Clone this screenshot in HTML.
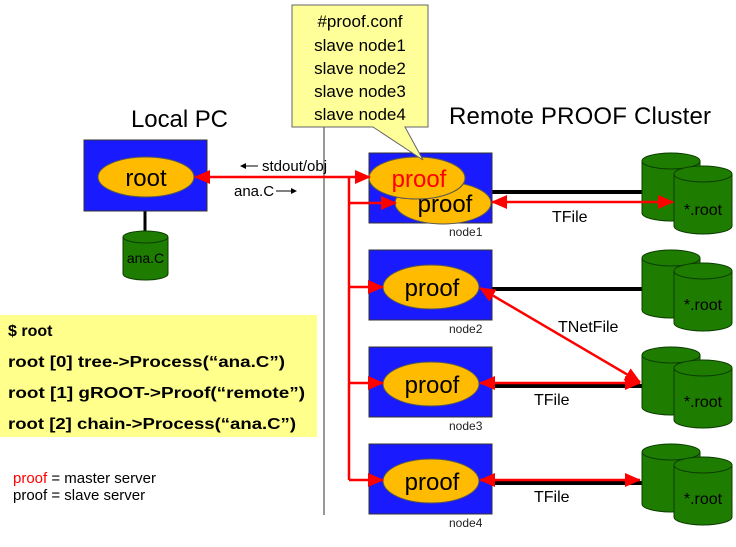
<!DOCTYPE html>
<html><head><meta charset="utf-8"><style>
html,body{margin:0;padding:0;background:#fff;}
svg{display:block;font-family:"Liberation Sans","DejaVu Sans",sans-serif;}
</style></head><body>
<svg width="736" height="547" viewBox="0 0 736 547" xmlns="http://www.w3.org/2000/svg">
<defs>
<marker id="ah" markerUnits="userSpaceOnUse" markerWidth="16" markerHeight="14" refX="15" refY="7" orient="auto"><path d="M0,0 L16,7 L0,14 z" fill="#ff0000"/></marker>
<marker id="as" markerUnits="userSpaceOnUse" markerWidth="16" markerHeight="14" refX="1" refY="7" orient="auto"><path d="M16,0 L0,7 L16,14 z" fill="#ff0000"/></marker>
<g id="cyl">
<path d="M0,8 L0,60 A29,8 0 0 0 58,60 L58,8" fill="#1e7d00" stroke="#0b3d00" stroke-width="1"/>
<ellipse cx="29" cy="8" rx="29" ry="8" fill="#1e7d00" stroke="#0b3d00" stroke-width="1"/>
</g>
</defs>

<!-- vertical divider -->
<line x1="324" y1="127" x2="324" y2="515" stroke="#555" stroke-width="1.2"/>

<!-- Titles -->
<text x="131" y="127" font-size="24" textLength="97">Local PC</text>
<text x="449" y="124" font-size="24" textLength="262">Remote PROOF Cluster</text>

<!-- Local PC -->
<line x1="145" y1="211" x2="145" y2="233" stroke="#000" stroke-width="3"/>
<rect x="84" y="140" width="123" height="71" fill="#1a1aff" stroke="#333" stroke-width="1"/>
<ellipse cx="146" cy="177" rx="48" ry="20" fill="#ffbb00" stroke="#555" stroke-width="1"/>
<text x="146" y="186" font-size="24" text-anchor="middle">root</text>
<g transform="translate(123,231)">
<path d="M0,6 L0,43 A22.5,6 0 0 0 45,43 L45,6" fill="#1e7d00" stroke="#0b3d00"/>
<ellipse cx="22.5" cy="6" rx="22.5" ry="6" fill="#1e7d00" stroke="#0b3d00"/>
<text x="22.5" y="32" font-size="14" text-anchor="middle">ana.C</text>
</g>

<!-- link labels -->
<text x="262" y="171" font-size="15">stdout/obj</text>
<path d="M243,166 L258,166" stroke="#000" stroke-width="1"/><path d="M240,166 L246,163 L246,169z" fill="#000"/>
<text x="234" y="196" font-size="15">ana.C</text>
<path d="M276,191 L292,191" stroke="#000" stroke-width="1"/><path d="M297,191 L291,188 L291,194z" fill="#000"/>

<!-- black cluster links -->
<g stroke="#000" stroke-width="4">
<line x1="492" y1="192" x2="645" y2="192"/>
<line x1="492" y1="289" x2="645" y2="289"/>
<line x1="492" y1="386" x2="645" y2="386"/>
<line x1="492" y1="483" x2="645" y2="483"/>
</g>

<!-- cylinders -->
<g transform="translate(642,153)"><use href="#cyl"/><use href="#cyl" x="32" y="13"/><text x="61" y="62" font-size="16" text-anchor="middle">*.root</text></g>
<g transform="translate(642,250)"><use href="#cyl"/><use href="#cyl" x="32" y="13"/><text x="61" y="60" font-size="16" text-anchor="middle">*.root</text></g>
<g transform="translate(642,347)"><use href="#cyl"/><use href="#cyl" x="32" y="13"/><text x="61" y="60" font-size="16" text-anchor="middle">*.root</text></g>
<g transform="translate(642,444)"><use href="#cyl"/><use href="#cyl" x="32" y="13"/><text x="61" y="60" font-size="16" text-anchor="middle">*.root</text></g>

<!-- nodes -->
<g stroke="#333" stroke-width="1" fill="#1a1aff">
<rect x="369" y="153" width="123" height="70"/>
<rect x="369" y="250" width="123" height="70"/>
<rect x="369" y="347" width="123" height="70"/>
<rect x="369" y="444" width="123" height="70"/>
</g>
<g fill="#ffbb00" stroke="#555" stroke-width="1">
<ellipse cx="443" cy="203" rx="48" ry="21"/>
<ellipse cx="417" cy="178" rx="48" ry="21"/>
<ellipse cx="431" cy="287" rx="48" ry="22"/>
<ellipse cx="431" cy="384" rx="48" ry="22"/>
<ellipse cx="431" cy="481" rx="48" ry="22"/>
</g>
<ellipse cx="443" cy="203" rx="48" ry="21" fill="none"/>
<g font-size="24" text-anchor="middle">
<text x="445" y="212">proof</text>
<ellipse cx="417" cy="178" rx="48" ry="21" fill="#ffbb00" stroke="#555"/>
<text x="419" y="187" fill="#ff0000">proof</text>
<text x="432" y="296">proof</text>
<text x="432" y="393">proof</text>
<text x="432" y="490">proof</text>
</g>
<g font-size="12" fill="#222">
<text x="449" y="236">node1</text>
<text x="449" y="333">node2</text>
<text x="449" y="430">node3</text>
<text x="449" y="527">node4</text>
</g>

<!-- callout -->
<path d="M292,5 L428,5 L428,127 L405,127 L423,160 L373,127 L292,127 Z" fill="#ffff99" stroke="#666" stroke-width="1"/>
<g font-size="17" text-anchor="middle">
<text x="360" y="27">#proof.conf</text>
<text x="360" y="51">slave node1</text>
<text x="360" y="74">slave node2</text>
<text x="360" y="97">slave node3</text>
<text x="360" y="120">slave node4</text>
</g>

<!-- red connectors -->
<g stroke="#ff0000" stroke-width="2.5" fill="none">
<line x1="349" y1="177" x2="349" y2="462"/>
<line x1="349" y1="177" x2="195" y2="177" marker-end="url(#ah)"/>
<line x1="349" y1="177" x2="370" y2="177" marker-end="url(#ah)"/>
<line x1="349" y1="203" x2="396" y2="203" marker-end="url(#ah)"/>
<line x1="349" y1="287" x2="383" y2="287" marker-end="url(#ah)"/>
<line x1="349" y1="383" x2="383" y2="383" marker-end="url(#ah)"/>
<line x1="349" y1="462" x2="349" y2="480"/>
<line x1="349" y1="480" x2="383" y2="480" marker-end="url(#ah)"/>
<line x1="492" y1="202" x2="673" y2="202" marker-start="url(#as)" marker-end="url(#ah)"/>
<line x1="480" y1="288" x2="640" y2="382" marker-start="url(#as)" marker-end="url(#ah)"/>
<line x1="480" y1="383" x2="640" y2="383" marker-start="url(#as)" marker-end="url(#ah)"/>
<line x1="480" y1="480" x2="640" y2="480" marker-start="url(#as)" marker-end="url(#ah)"/>
</g>

<g font-size="16">
<text x="552" y="222">TFile</text>
<text x="558" y="332">TNetFile</text>
<text x="534" y="405">TFile</text>
<text x="534" y="502">TFile</text>
</g>

<!-- command box -->
<rect x="0" y="315" width="317" height="122" fill="#ffff8c"/>
<g font-size="16" font-weight="bold">
<text x="8" y="336">$ root</text>
<text x="8" y="367" textLength="277" lengthAdjust="spacingAndGlyphs">root [0] tree-&gt;Process(“ana.C”)</text>
<text x="8" y="398" textLength="297" lengthAdjust="spacingAndGlyphs">root [1] gROOT-&gt;Proof(“remote”)</text>
<text x="8" y="429" textLength="288" lengthAdjust="spacingAndGlyphs">root [2] chain-&gt;Process(“ana.C”)</text>
</g>
<g font-size="15">
<text x="13" y="483"><tspan fill="#ff0000">proof</tspan> = master server</text>
<text x="13" y="500">proof = slave server</text>
</g>
</svg>
</body></html>
